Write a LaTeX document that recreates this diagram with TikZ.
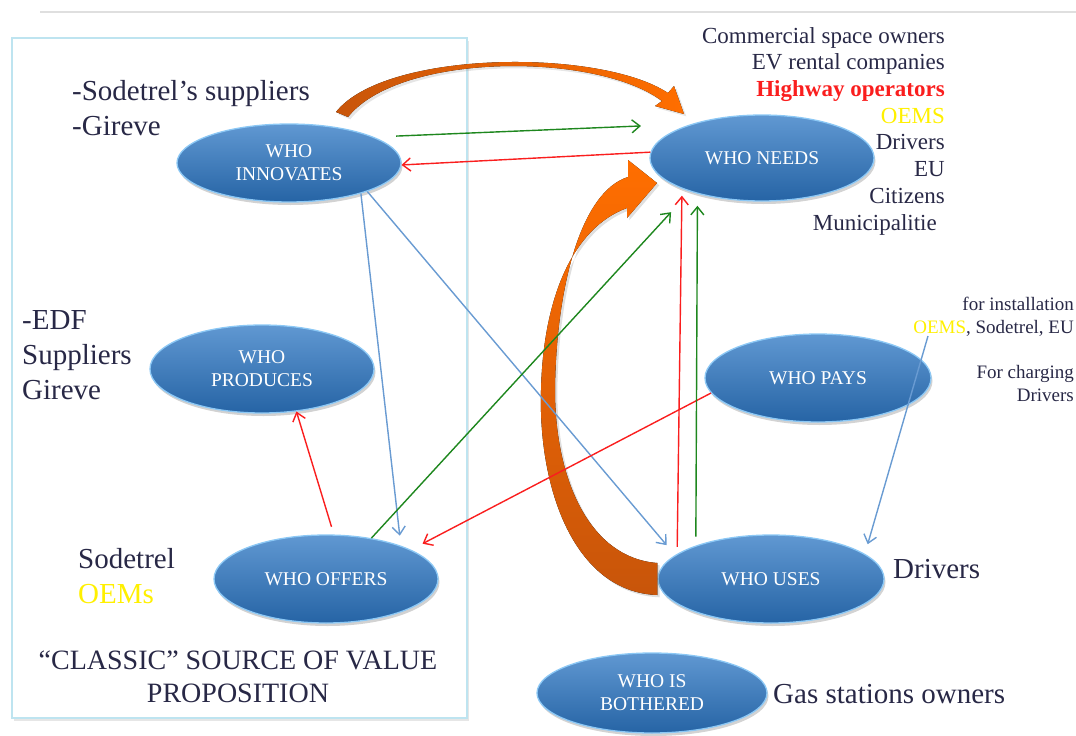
\documentclass[tikz,border=0pt]{standalone}
\usepackage{fontspec}
\setmainfont{Liberation Serif}
\usetikzlibrary{arrows.meta,shapes.geometric,shadows}

\definecolor{ink}{RGB}{40,40,70}
\definecolor{whotop}{RGB}{96,152,210}
\definecolor{whobot}{RGB}{38,100,165}
\definecolor{whorim}{RGB}{140,200,245}
\definecolor{boxrim}{RGB}{190,228,240}
\definecolor{linered}{RGB}{250,30,30}
\definecolor{linegreen}{RGB}{30,135,30}
\definecolor{lineblue}{RGB}{105,155,210}
\definecolor{orglight}{RGB}{255,110,0}
\definecolor{orgdark}{RGB}{200,85,10}
\definecolor{oemyel}{RGB}{255,240,0}

\begin{document}
\begin{tikzpicture}[x=1pt, y=-1pt, >={Straight Barb[length=8pt,width=13pt]},
	who/.style={ellipse, draw=whorim, line width=1.3pt, top color=whotop, bottom color=whobot, minimum width=224pt, minimum height=86pt, inner sep=0pt, text=white, align=center, font=\fontsize{19.5}{23}\selectfont, drop shadow={shadow xshift=1.5pt, shadow yshift=-3pt, opacity=.35}},
	lbl/.style={text=ink, inner sep=0pt, font=\fontsize{29}{35}\selectfont},
	small/.style={text=ink, inner sep=0pt, align=right, font=\fontsize{19}{23}\selectfont},
	redln/.style={->, draw=linered, line width=1.4pt},
	grnln/.style={->, draw=linegreen, line width=1.4pt},
	bluln/.style={->, draw=lineblue, line width=1.4pt}]
	\useasboundingbox (0,0) rectangle (1076,736);
	\clip (0,0) rectangle (1076,736);
	\draw[gray!25, line width=2pt] (40,12) -- (1076,12);
	\draw[boxrim, line width=1.5pt, fill=white, drop shadow={shadow xshift=2pt, shadow yshift=-3pt, opacity=.2}] (12,38) rectangle (467,718);

	% the seven roles
	\node[who, minimum height=78pt] (inn) at (289,163) {WHO\\INNOVATES};
	\node[who] (need) at (762,158) {WHO NEEDS};
	\node[who, minimum height=88pt] (prod) at (262,369) {WHO\\PRODUCES};
	\node[who, minimum height=88pt] (off) at (326,579) {WHO OFFERS};
	\node[who, minimum width=226pt, minimum height=88pt] (pays) at (818,378) {WHO PAYS};
	\node[who, minimum width=226pt, minimum height=88pt] (uses) at (771,579) {WHO USES};
	\node[who, minimum width=230pt, minimum height=80pt] (both) at (652,693) {WHO IS\\BOTHERED};

	% who is behind each role
	\node[lbl, align=left, anchor=north west] (innwho) at (72,80) {-Sodetrel's suppliers\\-Gireve};
	\node[lbl, align=left, anchor=north west] (prodwho) at (22,310) {-EDF\\Suppliers\\Gireve};
	\node[lbl, align=left, anchor=north west] (offwho) at (78,548) {Sodetrel\\{\color{oemyel}OEMs}};
	\node[lbl, anchor=base west] (useswho) at (893,578) {Drivers};
	\node[lbl, anchor=base west] (bothwho) at (773,703) {Gas stations owners};
	\node[text=ink, inner sep=0pt, align=right, anchor=north east, font=\fontsize{23}{26.7}\selectfont] (needwho) at (945,27) {Commercial space owners\\EV rental companies\\{\bfseries\color{linered}Highway operators}\\{\color{oemyel}OEMS}\\Drivers\\EU\\Citizens\\Municipalitie\hspace*{8pt}};
	\node[small, anchor=north east] (payinst) at (1074,297) {for installation\\{\color{oemyel}OEMS}, Sodetrel, EU};
	\node[small, anchor=north east] (paychrg) at (1074,365) {For charging\\Drivers};
	\node[lbl, align=center, anchor=north, font=\fontsize{28}{33}\selectfont] (classic) at (238,651) {``CLASSIC'' SOURCE OF VALUE\\PROPOSITION};
	\coordinate (oemtick) at (928,336);

	% orange block arrows
	\fill[left color=orgdark, right color=orglight, drop shadow={opacity=.2}] (336,112) .. controls (385,50) and (600,48) .. (668,93) -- (674,86) -- (684,114) -- (655,106) -- (662,101) .. controls (597,52) and (400,52) .. (348,117) -- cycle;
	\fill[top color=orglight, bottom color=orgdark, drop shadow={opacity=.25}] ([yshift=-16pt]uses.west) .. controls (575,592) and (538,490) .. (541,390) .. controls (543,300) and (572,228) .. (627,208) -- (627,218) -- (657,183) -- (628,160) -- (628,177) .. controls (580,192) and (556,290) .. (555,390) .. controls (555,480) and (590,558) .. ([yshift=16pt]uses.west) -- cycle;

	% flows
	\draw[grnln, shorten <=22pt, shorten >=51pt] (inn.17) -- (need.154);
	\draw[redln] (need.177) -- (inn.-1);
	\draw[bluln, shorten >=10pt] (inn.-23) -- (off.24);
	\draw[bluln, shorten >=13pt] (inn.-20) -- (uses.166);
	\draw[redln, shorten <=8pt] (off.80) -- (prod.-51);
	\draw[grnln, shorten >=28pt] (off.42) -- (need.205);
	\draw[redln, shorten >=13pt] (pays.188) -- (off.19);
	\draw[redln, shorten <=7pt, shorten >=7pt] (uses.165) -- (need.201);
	\draw[grnln, shorten <=9pt, shorten >=12pt] (uses.156) -- (need.209);
	\draw[bluln, shorten >=10pt] (oemtick) -- (uses.15);
\end{tikzpicture}
\end{document}
